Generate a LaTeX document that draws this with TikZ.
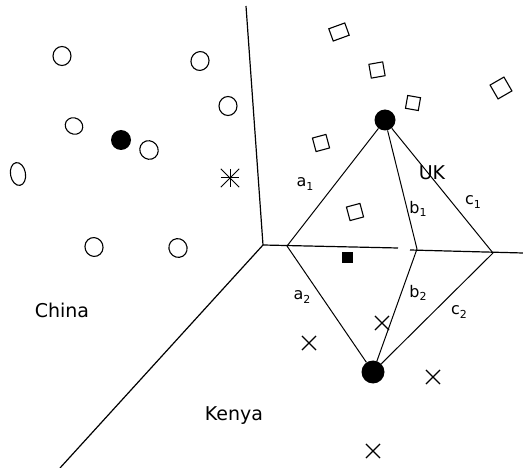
\documentclass[tikz,border=0pt]{standalone}
\usepackage{fontspec}
\setmainfont{DejaVu Sans}
\usetikzlibrary{shapes.geometric,shapes.misc}
\newcommand{\lab}[2]{#1\raisebox{-0.4ex}{\fontsize{11}{11}\selectfont #2}}
\begin{document}
\begin{tikzpicture}[x=1pt,y=-1pt,
  border/.style={line width=1.2pt},
  edge/.style={line width=1pt},
  odot/.style={draw, ellipse, line width=1.1pt, inner sep=0pt, minimum width=18pt, minimum height=19pt},
  bigdot/.style={circle, fill=black, inner sep=0pt, minimum size=21pt},
  sqr/.style={draw, rectangle, line width=1.1pt, inner sep=0pt, minimum size=14pt},
  crs/.style={cross out, draw, line width=1.1pt, inner sep=0pt, minimum size=13pt},
  lbl/.style={font=\fontsize{16}{18}\selectfont, inner sep=0pt},
  region/.style={font=\fontsize{19}{22}\selectfont, inner sep=0pt}]
\useasboundingbox (0,0) rectangle (523,468);
% Voronoi borders
\coordinate (top) at (246,6);
\coordinate (J) at (263,245);
\coordinate (bl) at (60,468);
\coordinate (r) at (523,253);
\coordinate (g1) at (398,248);
\coordinate (g2) at (410,250);
\draw[border] (top) -- (J);
\draw[border] (J) -- (bl);
\draw[border] (J) -- (g1);
\draw[border] (g2) -- (r);
% kite vertices
\coordinate (L) at (287,246);
\coordinate (M) at (417,249);
\coordinate (R) at (493,253);
\node[bigdot] (UKc) at (385,120) {};
\node[bigdot, minimum size=23pt] (KEc) at (373,372) {};
\draw[edge] (UKc) -- (L);
\draw[edge] (UKc) -- (M);
\draw[edge] (UKc) -- (R);
\draw[edge] (KEc) -- (L);
\draw[edge] (KEc) -- (M);
\draw[edge] (KEc) -- (R);
% China points
\node[odot] (o1) at (62,56) {};
\node[odot, rotate=-20] (o2) at (200,61) {};
\node[odot] (o3) at (228,106) {};
\node[odot, minimum width=16pt, minimum height=18pt, rotate=60] (o4) at (74,126) {};
\node[bigdot, minimum size=20pt] (cc) at (121,140) {};
\node[odot, rotate=40] (o6) at (149,150) {};
\node[odot, minimum width=15pt, minimum height=23pt, rotate=10] (o7) at (18,174) {};
\node[odot, rotate=20] (o9) at (94,247) {};
\node[odot, rotate=30] (o10) at (178,248) {};
% asterisk
\node[inner sep=0pt, minimum size=18pt] (ast) at (230,178) {};
\draw[edge] (ast.north) -- (ast.south);
\draw[edge] (ast.west) -- (ast.east);
\draw[edge] (ast.north east) -- (ast.south west);
\draw[edge] (ast.north west) -- (ast.south east);
% UK points
\node[sqr, minimum width=17pt, minimum height=13pt, rotate=20] (s1) at (339,32) {};
\node[sqr, rotate=10] (s2) at (377,70) {};
\node[sqr, minimum size=13pt, rotate=-10] (s3) at (413,103) {};
\node[sqr, minimum size=16pt, rotate=30] (s4) at (501,88) {};
\node[sqr, rotate=15] (s5) at (321,143) {};
\node[sqr, rotate=15] (s6) at (355,212) {};
\node[fill=black, inner sep=0pt, minimum size=11pt] (sq) at (347,258) {};
% Kenya points
\node[crs] (x1) at (382,323) {};
\node[crs] (x2) at (309,343) {};
\node[crs] (x3) at (433,377) {};
\node[crs] (x4) at (373,451) {};
% labels
\node[lbl] (la1) at (305,184) {\lab{a}{1}};
\node[lbl] (lb1) at (418,209) {\lab{b}{1}};
\node[lbl] (lc1) at (473,202) {\lab{c}{1}};
\node[lbl] (la2) at (302,297) {\lab{a}{2}};
\node[lbl] (lb2) at (418,293) {\lab{b}{2}};
\node[lbl] (lc2) at (459,312) {\lab{c}{2}};
\node[region] (uk) at (432,173) {UK};
\node[region] (china) at (62,310) {China};
\node[region] (kenya) at (234,416) {Kenya};
\end{tikzpicture}
\end{document}
